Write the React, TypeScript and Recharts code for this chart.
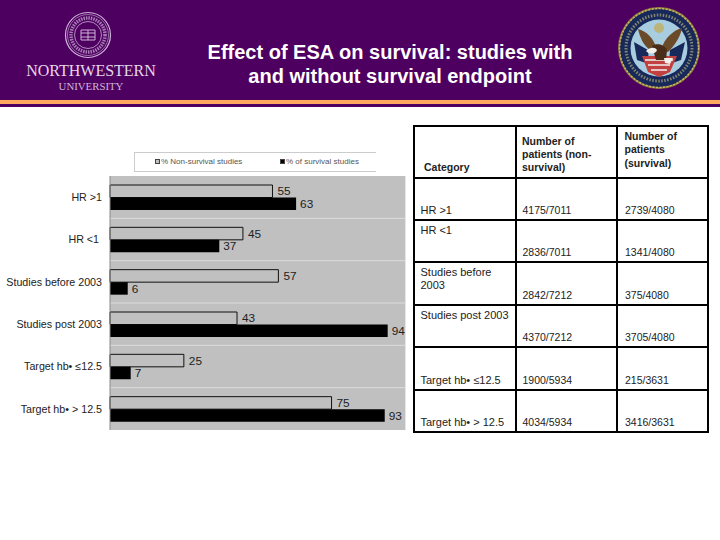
import React from 'react'
import { BarChart, Bar, XAxis, YAxis, CartesianGrid, Legend, LabelList } from 'recharts'

const categories = ['HR >1', 'HR <1\u00a0', 'Studies before 2003', 'Studies post 2003', 'Target hb• ≤12.5', 'Target hb• > 12.5']
const nonSurvival = [55, 45, 57, 43, 25, 75]
const survival = [63, 37, 6, 94, 7, 93]
const nonSurvivalPatients = ['4175/7011', '2836/7011', '2842/7212', '4370/7212', '1900/5934', '4034/5934']
const survivalPatients = ['2739/4080', '1341/4080', '375/4080', '3705/4080', '215/3631', '3416/3631']

const titleLines = ['Effect of ESA on survival: studies with', 'and without survival endpoint']
const tableHeaders = ['Category', 'Number of patients (non-survival)', 'Number of patients (survival)']
const legendLabels = ['% Non-survival studies', '% of survival studies']

const chartData = categories.map((name, i) => ({
    name,
    nonSurvival: nonSurvival[i],
    survival: survival[i],
}))

const FONT = '"Liberation Sans", Arial, sans-serif'
const PURPLE = '#4e0060'
const PLOT_GREY = '#c0c0c0'

// row tops and cell layout of the table on the right
const rowLines = [126, 178, 220, 262, 305, 347, 390, 432]
const colLines = [414, 516, 617, 708]
const labelOnTop = [false, true, true, true, false, false]

function LegendBox({ payload }: any) {
    const lefts = [20, 145]
    return (
        <div style={{
            position: 'relative', width: 242, height: 20, boxSizing: 'border-box', background: '#fff',
            borderTop: '1px solid #ccc', borderLeft: '1px solid #ccc', borderBottom: '1px solid #ccc',
            fontFamily: FONT, fontSize: 8, color: '#555',
        }}>
            {(payload || []).map((item: any, i: number) => (
                <span key={item.value} style={{ position: 'absolute', left: lefts[i], top: 4, whiteSpace: 'nowrap' }}>
                    <span style={{
                        display: 'inline-block', width: 5, height: 5, marginRight: 1,
                        background: item.color, border: '1px solid #444', boxSizing: 'border-box',
                    }} />
                    {item.value}
                </span>
            ))}
        </div>
    )
}

// plain text tick, the built-in one wraps the long category names
function CategoryTick({ x, y, payload }: any) {
    return (
        <text x={x} y={y} dy="0.355em" textAnchor="end" fill="#222" fontSize={10.7} fontFamily={FONT} xmlSpace="preserve">
            {payload.value}
        </text>
    )
}

function Chart() {
    return (
        <div style={{ position: 'absolute', left: 0, top: 140 }}>
            <BarChart
                width={420}
                height={300}
                data={chartData}
                layout="vertical"
                barSize={12.5}
                barGap={0}
                margin={{ top: 16, right: 14.6, bottom: 10, left: 0 }}
            >
                <CartesianGrid
                    vertical={false}
                    fill={PLOT_GREY}
                    stroke="#dcdcdc"
                    horizontalCoordinatesGenerator={({ offset }: any) =>
                        categories.slice(1).map((_, i) => offset.top + ((i + 1) * offset.height) / categories.length)
                    }
                />
                <XAxis type="number" domain={[0, 100]} height={0} tick={false} tickLine={false} axisLine={{ stroke: '#8a8a8a', strokeWidth: 1.5 }} />
                <YAxis
                    type="category"
                    dataKey="name"
                    width={110}
                    interval={0}
                    tickLine={false}
                    tickSize={0}
                    tickMargin={8}
                    axisLine={{ stroke: '#8a8a8a', strokeWidth: 1 }}
                    tick={<CategoryTick />}
                />
                <Legend
                    verticalAlign="top"
                    align="left"
                    content={<LegendBox />}
                    wrapperStyle={{ left: 134, top: 12, width: 242, height: 20 }}
                />
                <Bar dataKey="nonSurvival" name={legendLabels[0]} fill={PLOT_GREY} stroke="#111" strokeWidth={1} isAnimationActive={false}>
                    <LabelList dataKey="nonSurvival" position="right" offset={5} fill="#222" fontSize={11.8} fontFamily={FONT} />
                </Bar>
                <Bar dataKey="survival" name={legendLabels[1]} fill="#000" isAnimationActive={false}>
                    <LabelList dataKey="survival" position="right" offset={4} fill="#222" fontSize={11.8} fontFamily={FONT} />
                </Bar>
            </BarChart>
        </div>
    )
}

function Header() {
    return (
        <div style={{ position: 'absolute', left: 0, top: 0, width: 720, height: 107, background: PURPLE }}>
            <div style={{ position: 'absolute', left: 0, top: 100, width: 720, height: 4, background: '#ffa860' }} />
            <div style={{
                position: 'absolute', left: 150, top: 39.5, width: 480, textAlign: 'center', color: '#fff',
                fontFamily: FONT, fontWeight: 'bold', fontSize: 20, lineHeight: '24.5px',
            }}>
                {titleLines.map(line => <div key={line}>{line}</div>)}
            </div>
            <div style={{ position: 'absolute', left: 0, top: 62, width: 182, textAlign: 'center', color: '#e4d8ea', fontFamily: '"Liberation Serif", serif', fontSize: 16, lineHeight: '18px' }}>
                NORTHWESTERN
            </div>
            <div style={{ position: 'absolute', left: 0, top: 80, width: 182, textAlign: 'center', color: '#cdb9d6', fontFamily: '"Liberation Serif", serif', fontSize: 10.8, lineHeight: '12px' }}>
                UNIVERSITY
            </div>
            <svg width={720} height={100} style={{ position: 'absolute', left: 0, top: 0 }}>
                {/* Northwestern seal */}
                <g fill="none" stroke="#cdb3d8">
                    <circle cx={88} cy={35} r={22.5} strokeWidth={1.2} />
                    <circle cx={88} cy={35} r={20.5} strokeWidth={0.6} />
                    <circle cx={88} cy={35} r={17} strokeWidth={3.5} strokeDasharray="1.5 1" opacity={0.7} />
                    <circle cx={88} cy={35} r={13.5} strokeWidth={0.8} />
                    <path d="M81 30h14v10h-14z M81 33h14 M81 37h14 M88 30v10" strokeWidth={1} />
                </g>
                {/* VA seal */}
                <circle cx={659} cy={48} r={41} fill="#8c7a3a" />
                <circle cx={659} cy={48} r={39} fill="#16295a" />
                <circle cx={659} cy={48} r={39.5} fill="none" stroke="#c8b66a" strokeWidth={1.5} strokeDasharray="2 1.5" />
                <circle cx={659} cy={48} r={33} fill="none" stroke="#d0c47a" strokeWidth={3} strokeDasharray="1.5 1.5" opacity={0.6} />
                <circle cx={659} cy={48} r={28.5} fill="#a8cde0" />
                <path d="M634 42 L648 50 L649 64 L637 60 Z" fill="#16295a" />
                <path d="M685 42 L670 50 L669 64 L681 60 Z" fill="#16295a" />
                <path d="M642 56 L677 56 L670 72 L659 77 L648 72 Z" fill="#c24040" />
                <path d="M645 60 L673 60 M648 65 L670 65 M651 70 L667 70" stroke="#f0f0f0" strokeWidth={1.6} />
                <path d="M638 29 C646 31 654 38 657 50 L650 50 C644 46 640 38 638 29 Z" fill="#6b4a2a" />
                <path d="M682 28 C674 30 664 38 661 50 L668 52 C674 46 680 38 682 28 Z" fill="#6b4a2a" />
                <path d="M652 46 C656 43 664 44 667 50 L666 60 L656 60 Z" fill="#4a2c18" />
                <path d="M646 51 C650 47 655 47 657 50 C656 54 650 55 646 51 Z" fill="#f2f0ea" />
                <path d="M664 58 L673 58 L670 64 L665 63 Z" fill="#f2f0ea" />
                <circle cx={659} cy={28} r={5} fill="#c0ae62" opacity={0.8} />
            </svg>
        </div>
    )
}

function cellText(text: string, x: number, rowTop: number, rowBottom: number, onTop: boolean, width: number, fontSize = 10.5) {
    return (
        <div key={`${x}-${rowTop}-${text}`} style={{
            position: 'absolute', left: x, width, whiteSpace: 'normal', lineHeight: '13px', fontSize,
            ...(onTop ? { top: rowTop + 4 } : { bottom: 540 - rowBottom + 3 }),
        }}>
            {text}
        </div>
    )
}

function PatientTable() {
    return (
        <div style={{ position: 'absolute', left: 0, top: 0, width: 720, height: 540, fontFamily: FONT, fontSize: 10.5, color: '#222' }}>
            {rowLines.map(y => (
                <div key={`r${y}`} style={{ position: 'absolute', left: colLines[0] - 1, top: y - 1, width: colLines[3] - colLines[0] + 2, height: 2, background: '#000' }} />
            ))}
            {colLines.map(x => (
                <div key={`c${x}`} style={{ position: 'absolute', left: x - 1, top: rowLines[0] - 1, width: 2, height: rowLines[7] - rowLines[0] + 2, background: '#000' }} />
            ))}
            <div style={{ fontWeight: 'bold' }}>
                {cellText(tableHeaders[0], 424, rowLines[0], rowLines[1] - 1, false, 88)}
                {cellText(tableHeaders[1], 522, rowLines[0], rowLines[1] - 1, false, 90)}
                <div style={{ position: 'absolute', left: 624.5, top: 129.5, width: 70, lineHeight: '13.5px' }}>{tableHeaders[2]}</div>
            </div>
            {categories.map((name, i) => {
                const top = rowLines[i + 1]
                const bottom = rowLines[i + 2]
                return (
                    <React.Fragment key={name}>
                        {cellText(name, 420.5, top, bottom, labelOnTop[i], 95, 11)}
                        {cellText(nonSurvivalPatients[i], 522.5, top, bottom, false, 90)}
                        {cellText(survivalPatients[i], 625, top, bottom, false, 80)}
                    </React.Fragment>
                )
            })}
        </div>
    )
}

export default function App() {
    return (
        <div style={{ position: 'absolute', left: 0, top: 0, width: 720, height: 540, background: '#fff', overflow: 'hidden' }}>
            <Header />
            <Chart />
            <PatientTable />
        </div>
    )
}
